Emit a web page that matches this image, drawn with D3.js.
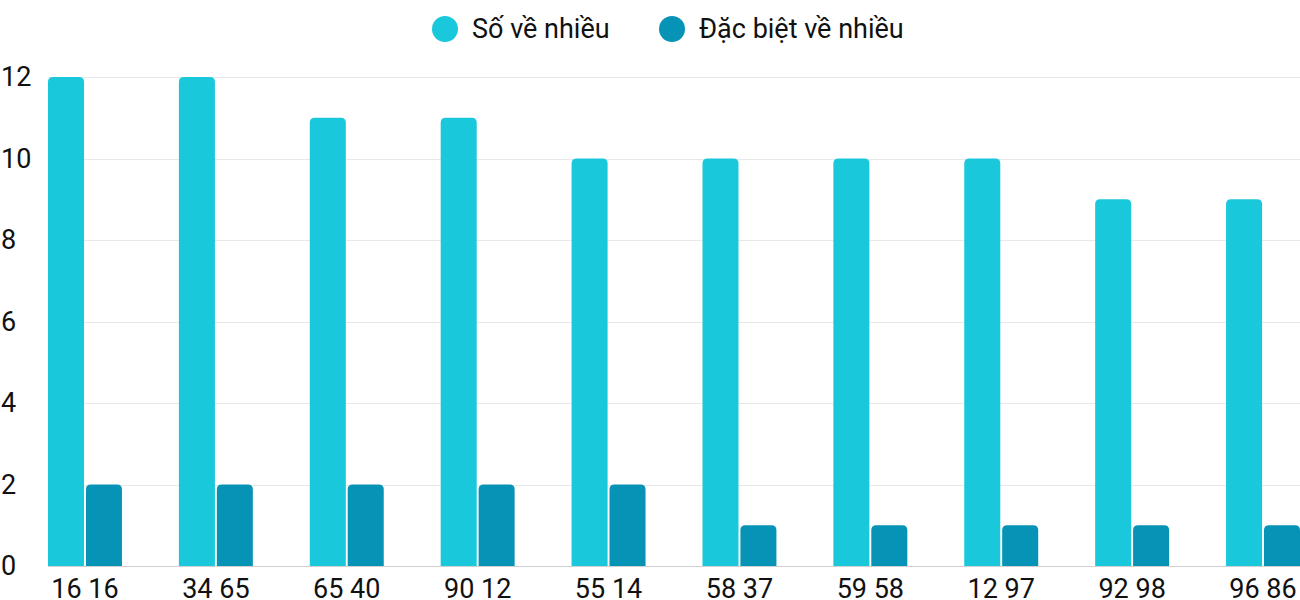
<!DOCTYPE html>
<html><head><meta charset="utf-8">
<script src="https://cdn.jsdelivr.net/npm/d3@7"></script>
<style>body{margin:0;background:#fff;}svg{display:block;font-family:Roboto,sans-serif;}</style>
</head><body><svg id="c" width="1300" height="600"></svg>
<script>
const categories = ["16 16","34 65","65 40","90 12","55 14","58 37","59 58","12 97","92 98","96 86"];
const seriesNames = ["Số về nhiều","Đặc biệt về nhiều"];
const soVeNhieu = [12,12,11,11,10,10,10,10,9,9];
const dacBiet = [2,2,2,2,2,1,1,1,1,1];
const yTicks = [0,2,4,6,8,10,12];
const colors = ["#1ac8db","#0693b5"];

(function(){
const svg = d3.select("#c");
const pLeft = 48, pRight = 1300, pTop = 77, pBottom = 566;
const x0 = d3.scaleBand().domain(categories).range([pLeft, pRight]).paddingInner(0.435).paddingOuter(0);
const x1 = d3.scaleBand().domain([0,1]).range([0, x0.bandwidth()]).paddingInner(0.05);
const y = d3.scaleLinear().domain([0,12]).range([pBottom, pTop]);

svg.append("g").selectAll("line").data(yTicks.filter(d=>d>0)).join("line")
  .attr("x1", pLeft).attr("x2", pRight).attr("y1", d=>Math.round(y(d))+0.5).attr("y2", d=>Math.round(y(d))+0.5)
  .attr("stroke", "#e8e8e8").attr("stroke-width", 1);

svg.append("g").selectAll("text").data(yTicks).join("text")
  .attr("x", 1).attr("y", d=>y(d)).attr("dy", "0.35em")
  .attr("font-size", 27).attr("fill", "#111").text(d=>d);

function roundTop(x, yTop, w, h, r){
  r = Math.min(r, w/2, h);
  return `M${x},${yTop+h}V${yTop+r}Q${x},${yTop} ${x+r},${yTop}H${x+w-r}Q${x+w},${yTop} ${x+w},${yTop+r}V${yTop+h}Z`;
}
const data = categories.map((c,i)=>({c, vals:[soVeNhieu[i], dacBiet[i]]}));
const g = svg.append("g");
data.forEach(d=>{
  d.vals.forEach((v,j)=>{
    const bx = x0(d.c) + x1(j), w = x1.bandwidth();
    g.append("path").attr("d", roundTop(bx, y(v), w, pBottom - y(v), 5)).attr("fill", colors[j]);
  });
});

svg.append("line").attr("x1", pLeft).attr("x2", pRight).attr("y1", pBottom+0.5).attr("y2", pBottom+0.5)
  .attr("stroke", "#d0d0d0").attr("stroke-width", 1);

svg.append("g").selectAll("text").data(categories).join("text")
  .attr("x", d=>x0(d)+x0.bandwidth()/2).attr("y", 589).attr("dy","0.35em")
  .attr("text-anchor","middle").attr("font-size", 27).attr("fill","#111").text(d=>d);

const legX = [445, 672];
const leg = svg.append("g");
seriesNames.forEach((n,i)=>{
  leg.append("circle").attr("cx", legX[i]).attr("cy", 29).attr("r", 13).attr("fill", colors[i]);
  leg.append("text").attr("x", legX[i]+27).attr("y", 29).attr("dy","0.35em")
    .attr("font-size", 27).attr("fill","#111").text(n);
});
})();
</script></body></html>
